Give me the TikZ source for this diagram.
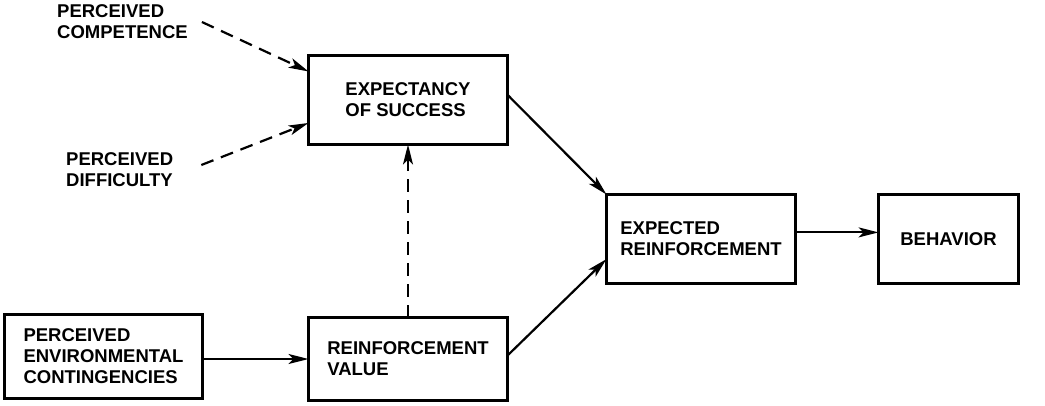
\documentclass[tikz,border=0pt]{standalone}
\usepackage{fontspec}
\setmainfont{Liberation Sans}
\usetikzlibrary{arrows.meta}

\tikzset{
    box/.style = {draw, line width=3pt, align=left, outer sep=0pt},
    lbl/.style = {inner sep=0pt, align=left, anchor=west},
    link/.style = {-{Stealth[length=20pt, width=10pt, inset=5pt]}, line width=2.2pt},
    hint/.style = {link, dash pattern=on 13pt off 8pt},
}

\begin{document}
\begin{tikzpicture}[x=1pt, y=-1pt, font=\fontsize{18.5}{21}\selectfont\bfseries]
    \useasboundingbox (0,0) rectangle (1045,405);

    \node[lbl] (competence) at (57,22) {PERCEIVED\\COMPETENCE};
    \node[lbl] (difficulty) at (66,170) {PERCEIVED\\DIFFICULTY};

    \node[box, minimum width=199pt, minimum height=89pt] (expect) at (408,100) {EXPECTANCY\\OF SUCCESS};
    \node[box, minimum width=198pt, minimum height=84pt] (envcont) at (103.5,356.5) {PERCEIVED\\ENVIRONMENTAL\\CONTINGENCIES};
    \node[box, minimum width=199pt, minimum height=83pt] (value) at (408,359) {REINFORCEMENT\\VALUE};
    \node[box, minimum width=189pt, minimum height=89pt] (expected) at (701,239) {EXPECTED\\REINFORCEMENT};
    \node[box, minimum width=140pt, minimum height=89pt] (behavior) at (948.5,239) {BEHAVIOR};

    \draw[hint] ([xshift=14pt]competence.east) -- (expect.164);
    \draw[hint] ([xshift=28pt, yshift=5pt]difficulty.east) -- (expect.193);
    \draw[hint] (value.north) -- (expect.south);
    \draw[link] (envcont.east |- value.west) -- (value.west);
    \draw[link] (expect.3) -- (expected.north west);
    \draw[link] (value.2) -- (expected.192);
    \draw[link] (expected.4) -- (expected.4 -| behavior.west);
\end{tikzpicture}
\end{document}
